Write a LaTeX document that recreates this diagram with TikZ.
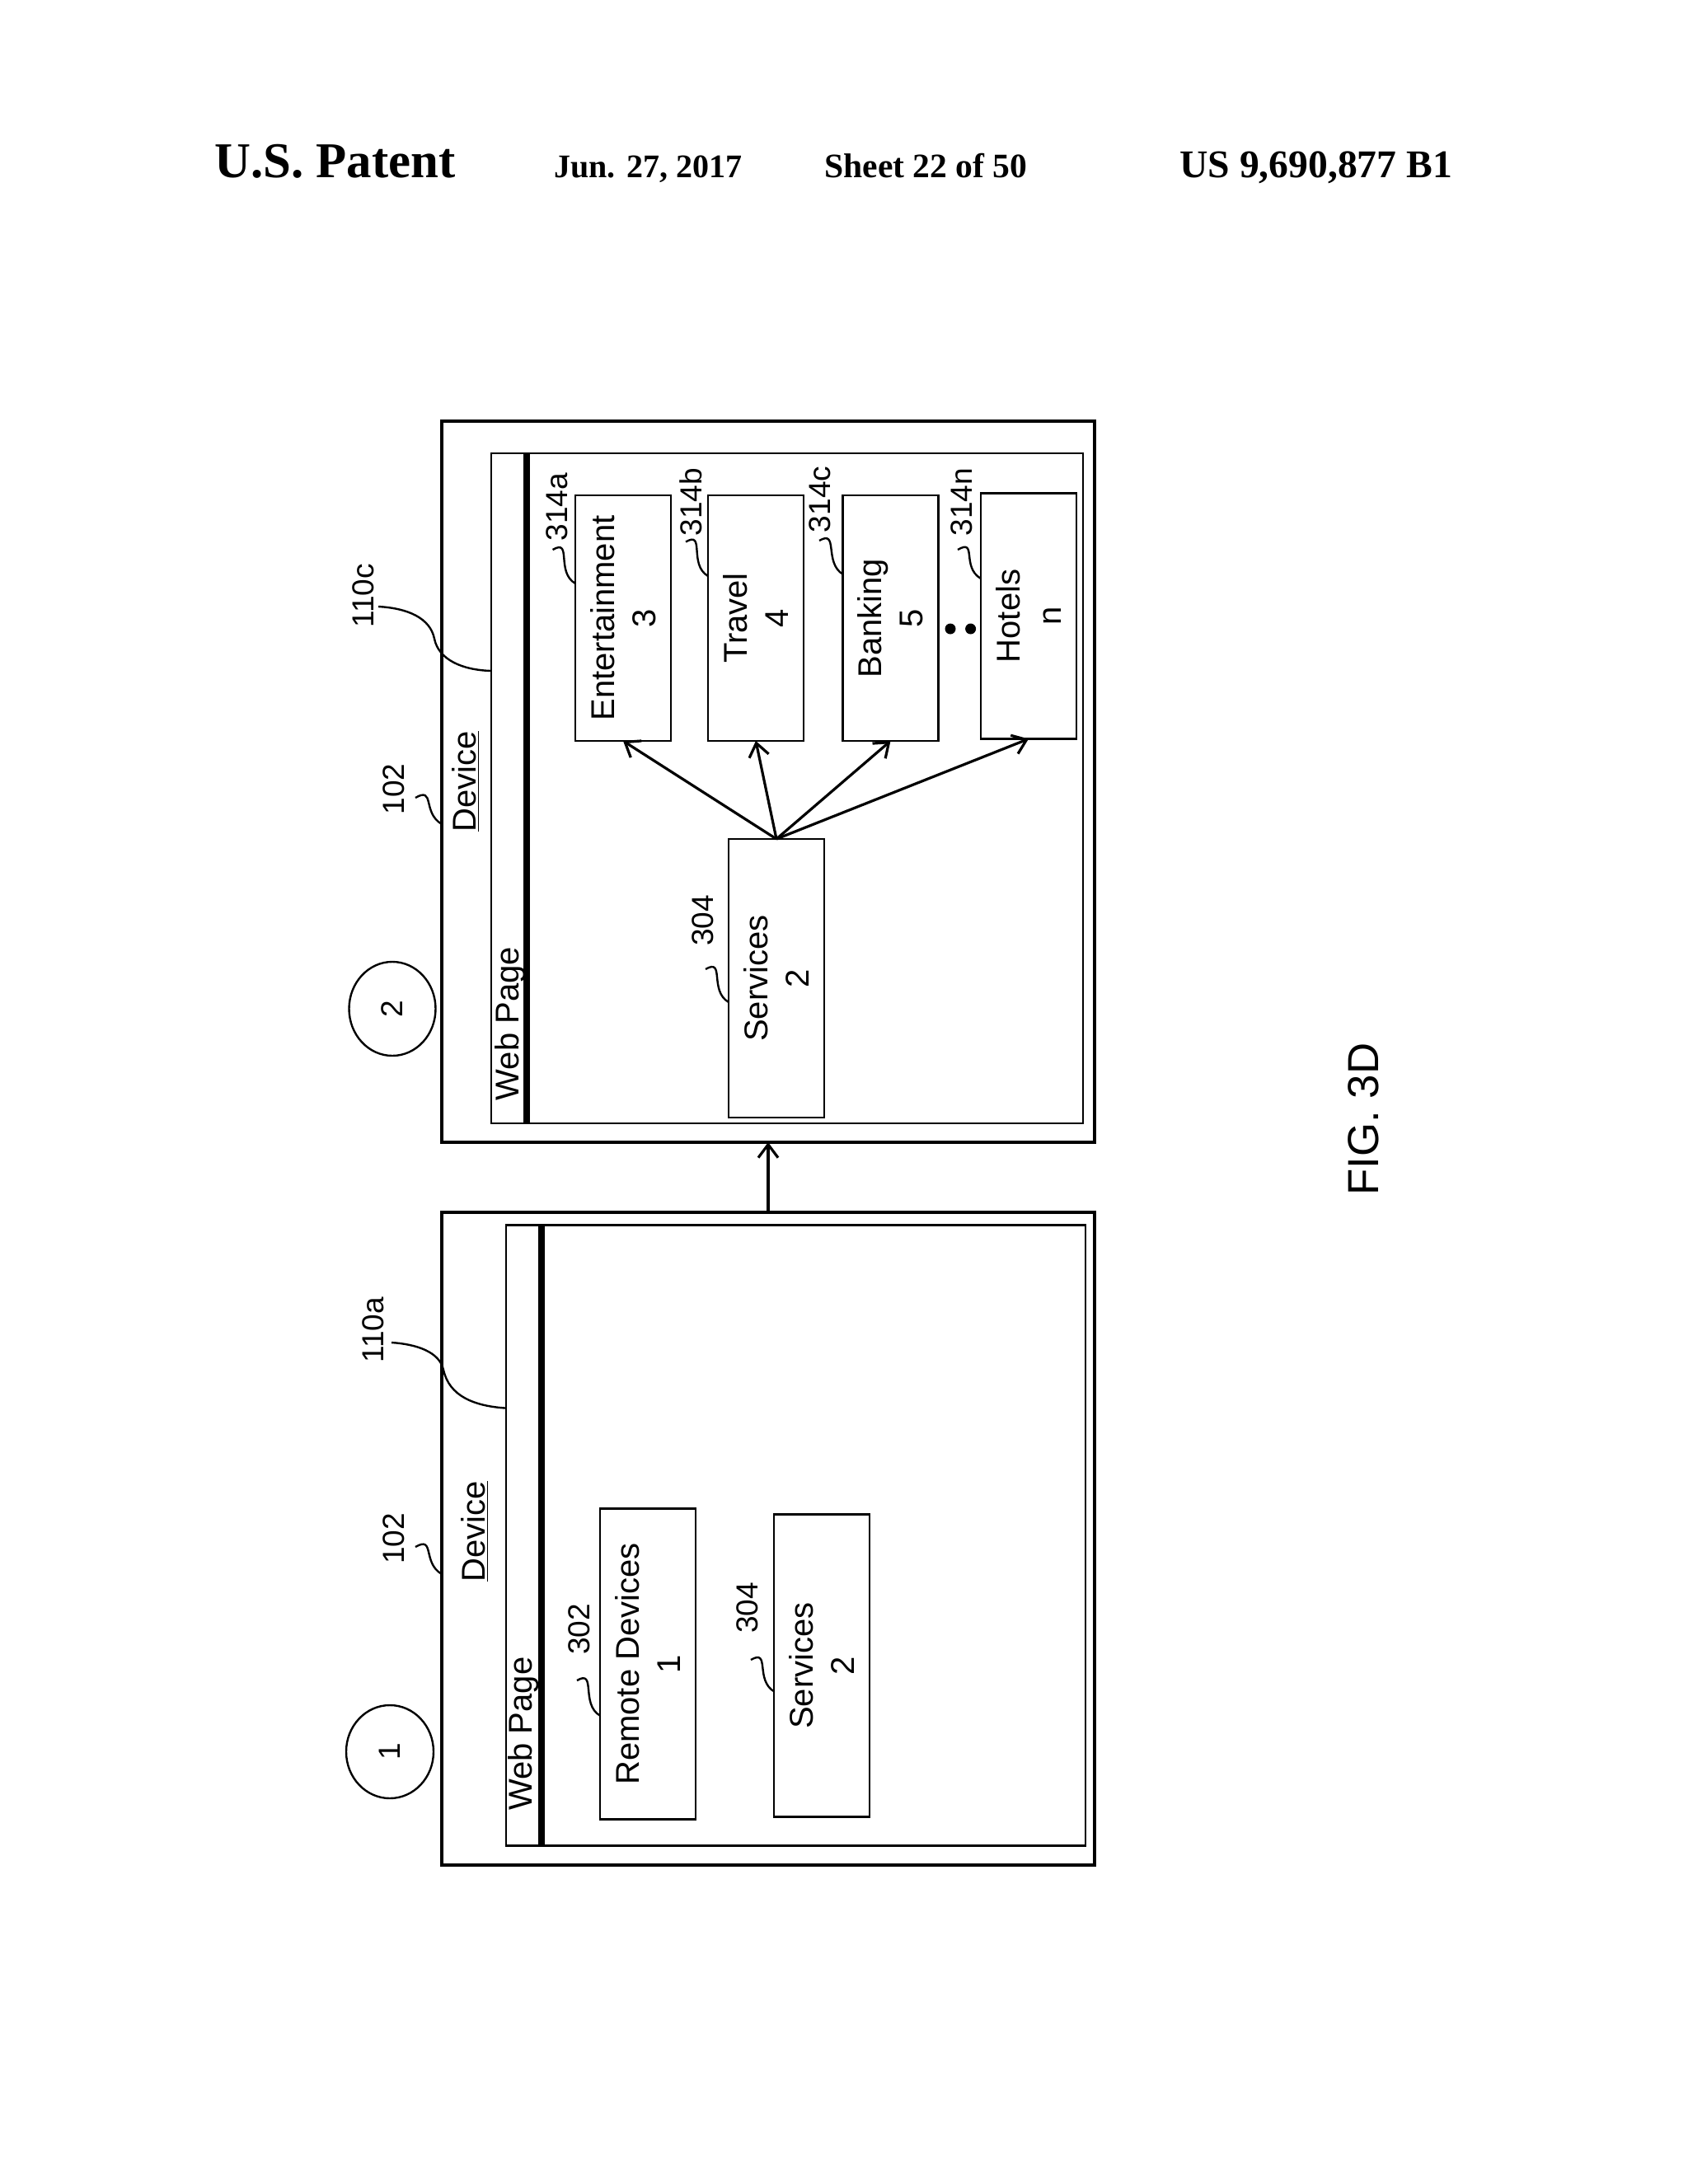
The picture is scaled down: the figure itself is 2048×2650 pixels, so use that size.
\documentclass[tikz,border=0pt]{standalone}
\usepackage{fontspec}
\setmainfont{Liberation Sans}
\newfontfamily\hdrfont{Liberation Serif}[BoldFont={Liberation Serif Bold}]
\usetikzlibrary{arrows.meta,shapes.geometric}
\tikzset{
  outerbox/.style={draw,line width=1.7pt,inner sep=0pt,outer sep=0pt},
  innerbox/.style={draw,line width=1.4pt,inner sep=0pt,outer sep=0pt},
  itembox/.style={draw,line width=1.4pt,inner sep=0pt,outer sep=0pt,rotate=90,align=center,
     font=\fontsize{20}{25}\selectfont},
  txt/.style={rotate=90,inner sep=0pt,font=\fontsize{20}{24}\selectfont},
  refnum/.style={rotate=90,inner sep=0pt,font=\fontsize{18.5}{22}\selectfont},
  stepnum/.style={draw,ellipse,line width=1.2pt,inner sep=0pt,outer sep=0pt,rotate=90,
     font=\fontsize{18.5}{22}\selectfont},
  bar/.style={line width=4pt},
  leader/.style={line width=1.2pt},
  conn/.style={line width=1.6pt,-{Straight Barb[length=8pt,width=12pt,line width=1.6pt]}},
  hdr/.style={anchor=base west,inner sep=0pt,font=\hdrfont\bfseries\fontsize{20}{24}\selectfont},
  dotmark/.style={circle,fill=black,inner sep=0pt,minimum size=6.5pt},
}
\begin{document}
\begin{tikzpicture}[x=0.5pt,y=-0.5pt]
\useasboundingbox (0,0) rectangle (2048,2650);
% header
\node[hdr,font=\hdrfont\bfseries\fontsize{30.4}{34}\selectfont] (h1) at (260,215) {U.S. Patent};
\node[hdr] (h2) at (672,215) {Jun. 27, 2017};
\node[hdr,font=\hdrfont\bfseries\fontsize{20.8}{24}\selectfont] (h3) at (1000,215) {Sheet 22 of 50};
\node[hdr,font=\hdrfont\bfseries\fontsize{23.8}{26}\selectfont] (h4) at (1431,215) {US 9,690,877 B1};
% upper device
\node[outerbox,minimum width=396pt,minimum height=437.5pt] (devB) at (932,948.5) {};
\node[innerbox,minimum width=359pt,minimum height=406.5pt] (webB) at (955,956.5) {};
\coordinate (barBa) at (639,550); \coordinate (barBb) at (639,1363);
\draw[bar] (barBa) -- (barBb);
\node[itembox,minimum width=149pt,minimum height=58pt] (ent) at (756,750) {Entertainment\\3};
\node[itembox,minimum width=149pt,minimum height=58pt] (trv) at (917,750) {Travel\\4};
\node[itembox,minimum width=149pt,minimum height=58pt] (bnk) at (1080.5,750) {Banking\\5};
\node[itembox,minimum width=149pt,minimum height=58pt] (hot) at (1248,747.5) {Hotels\\n};
\node[itembox,minimum width=169pt,minimum height=58pt] (svcB) at (942,1187) {Services\\2};
\draw[conn] (svcB.east) -- (ent.west);
\draw[conn] (svcB.east) -- (trv.west);
\draw[conn] (svcB.east) -- (bnk.west);
\draw[conn] (svcB.east) -- (hot.west);
\node[dotmark] (dA) at (1153,763) {};
\node[dotmark] (dB) at (1177.6,763) {};
\node[stepnum,minimum width=57pt,minimum height=52.5pt] (stepB) at (476,1224) {2};
\node[refnum] (r110c) at (441,723) {110c};
\node[refnum] (r102B) at (478,957.6) {102};
\node[txt] (devtB) at (565,948) {\underline{Device}};
\node[txt] (webtB) at (619,1242) {Web Page};
\node[refnum] (r314a) at (675.5,615) {314a};
\node[refnum] (r314b) at (838,609) {314b};
\node[refnum] (r314c) at (995,606) {314c};
\node[refnum] (r314n) at (1166.5,609) {314n};
\node[refnum] (r304B) at (853,1117) {304};
\coordinate (c110cA) at (459,736); \coordinate (c110cB) at (596,814);
\draw[leader] (c110cA) .. controls (495,738) and (522,750) .. (527,775) .. controls (532,800) and (560,813) .. (c110cB);
\coordinate (c102BA) at (504,968); \coordinate (c102BB) at (536,1000);
\draw[leader] (c102BA) .. controls +(24,-14) and +(-24,-14) .. (c102BB);
\coordinate (c314aA) at (670.6,667); \coordinate (c314aB) at (698,708);
\draw[leader] (c314aA) .. controls +(24,-14) and +(-24,-14) .. (c314aB);
\coordinate (c314bA) at (832,657.5); \coordinate (c314bB) at (859,699);
\draw[leader] (c314bA) .. controls +(24,-14) and +(-24,-14) .. (c314bB);
\coordinate (c314cA) at (994,656); \coordinate (c314cB) at (1023,697);
\draw[leader] (c314cA) .. controls +(24,-14) and +(-24,-14) .. (c314cB);
\coordinate (c314nA) at (1162,667); \coordinate (c314nB) at (1190,702);
\draw[leader] (c314nA) .. controls +(24,-14) and +(-24,-14) .. (c314nB);
\coordinate (c304BA) at (856,1176); \coordinate (c304BB) at (884,1216);
\draw[leader] (c304BA) .. controls +(24,-14) and +(-24,-14) .. (c304BB);
% lower device
\node[outerbox,minimum width=396pt,minimum height=396pt] (devA) at (932,1867) {};
\node[innerbox,minimum width=351.5pt,minimum height=376.75pt] (webA) at (965.5,1863) {};
\coordinate (barAa) at (656.5,1486.5); \coordinate (barAb) at (656.5,2240);
\draw[bar] (barAa) -- (barAb);
\node[itembox,minimum width=188.5pt,minimum height=58pt] (rem) at (786,2019) {Remote Devices\\1};
\node[itembox,minimum width=183.5pt,minimum height=58pt] (svcA) at (997,2021) {Services\\2};
\node[stepnum,minimum width=56.5pt,minimum height=53pt] (stepA) at (473,2125.5) {1};
\node[refnum] (r110a) at (453,1614) {110a};
\node[refnum] (r102A) at (478,1867) {102};
\node[txt] (devtA) at (576,1858) {\underline{Device}};
\node[txt] (webtA) at (635,2103.6) {Web Page};
\node[refnum] (r302) at (703,1977) {302};
\node[refnum] (r304A) at (907,1951) {304};
\coordinate (c110aA) at (475,1629); \coordinate (c110aB) at (614,1708.6);
\draw[leader] (c110aA) .. controls (505,1631) and (533,1640) .. (538,1662) .. controls (545,1694) and (575,1706) .. (c110aB);
\coordinate (c102AA) at (504,1877); \coordinate (c102AB) at (536,1910);
\draw[leader] (c102AA) .. controls +(24,-14) and +(-24,-14) .. (c102AB);
\coordinate (c302A) at (700,2039); \coordinate (c302B) at (728,2081.7);
\draw[leader] (c302A) .. controls +(24,-14) and +(-24,-14) .. (c302B);
\coordinate (c304AA) at (911,2014); \coordinate (c304AB) at (939.5,2052.6);
\draw[leader] (c304AA) .. controls +(24,-14) and +(-24,-14) .. (c304AB);
\draw[conn] (devA.north) -- (devB.south);
\node[rotate=90,inner sep=0pt,font=\fontsize{26.4}{30}\selectfont] (fig) at (1654,1358) {FIG. 3D};
\end{tikzpicture}
\end{document}
